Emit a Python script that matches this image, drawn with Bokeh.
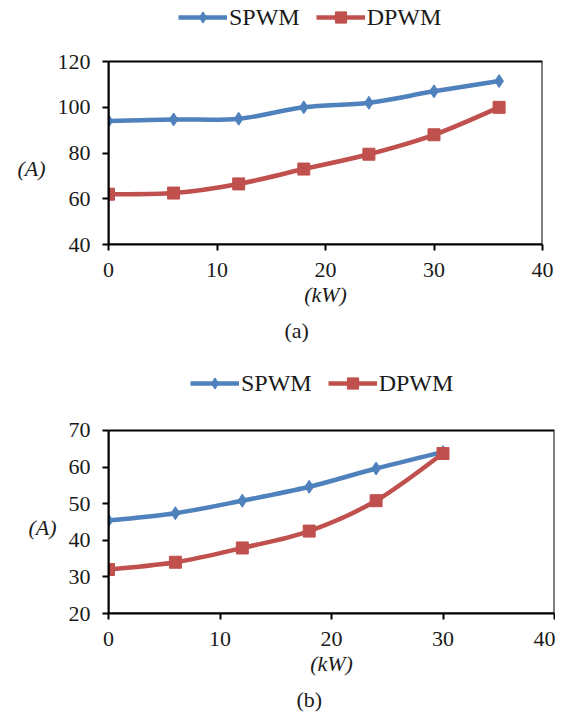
from bokeh.plotting import figure
from bokeh.models import (Legend, LegendItem, Title, Range1d, FixedTicker, ColumnDataSource,
                          BoxAnnotation)
from bokeh.layouts import column
from bokeh.embed import file_html
from bokeh.resources import INLINE

# ---- data ----
load_a = [0, 6, 12, 18, 24, 30, 36]
spwm_a = [94.0, 94.7, 95.0, 100.0, 102.0, 107.0, 111.5]
dpwm_a = [62.0, 62.5, 66.5, 73.0, 79.5, 88.0, 100.0]

load_b = [0, 6, 12, 18, 24, 30]
spwm_b = [45.4, 47.4, 50.8, 54.6, 59.6, 64.1]
dpwm_b = [32.0, 34.0, 37.9, 42.5, 50.8, 63.7]

x_ticks = [0, 10, 20, 30, 40]
y_ticks_a = [40, 60, 80, 100, 120]
y_ticks_b = [20, 30, 40, 50, 60, 70]
series_names = ["SPWM", "DPWM"]

BLUE = "#4F81BD"
RED = "#C0504D"
FONT = "'Liberation Serif', 'Times New Roman', serif"
TXT = "#1a1a1a"


def smooth_segments(xs, ys):
    """Catmull-Rom style bezier segments through the data points (Excel-like smoothing)."""
    n = len(xs)
    d = dict(x0=[], y0=[], x1=[], y1=[], cx0=[], cy0=[], cx1=[], cy1=[])
    for i in range(n - 1):
        p0 = (xs[max(i - 1, 0)], ys[max(i - 1, 0)])
        p1 = (xs[i], ys[i])
        p2 = (xs[i + 1], ys[i + 1])
        p3 = (xs[min(i + 2, n - 1)], ys[min(i + 2, n - 1)])
        d["x0"].append(p1[0]); d["y0"].append(p1[1])
        d["x1"].append(p2[0]); d["y1"].append(p2[1])
        d["cx0"].append(p1[0] + (p2[0] - p0[0]) / 6.0)
        d["cy0"].append(p1[1] + (p2[1] - p0[1]) / 6.0)
        d["cx1"].append(p2[0] - (p3[0] - p1[0]) / 6.0)
        d["cy1"].append(p2[1] - (p3[1] - p1[1]) / 6.0)
    return ColumnDataSource(d)


def make_chart(xs, s1, s2, yticks, caption, fw, box_h, top_px, bl, br, bt, bb,
               leg_x, leg_y, cap_off, ylab):
    x_min, x_max = x_ticks[0], x_ticks[-1]
    y_min, y_max = yticks[0], yticks[-1]
    # frame extends above the data box to host the legend (legend lives inside the frame)
    y_end = y_max + (y_max - y_min) * top_px / box_h
    p = figure(frame_width=fw, frame_height=int(round(box_h + top_px)),
               output_backend="svg", toolbar_location=None,
               x_range=Range1d(x_min, x_max), y_range=Range1d(y_min, y_end),
               min_border_left=bl, min_border_right=br, min_border_top=bt, min_border_bottom=bb)
    p.grid.visible = False
    p.outline_line_color = None

    for ax in (p.xaxis[0], p.yaxis[0]):
        ax.axis_line_color = "black"
        ax.axis_line_width = 2
        ax.major_tick_line_color = "black"
        ax.major_tick_line_width = 2
        ax.major_tick_out = 6
        ax.major_tick_in = 0
        ax.minor_tick_out = 0
        ax.minor_tick_in = 0
        ax.major_label_text_font = FONT
        ax.major_label_text_font_size = "22px"
        ax.major_label_text_color = TXT
        ax.major_label_standoff = 12
        ax.axis_label_text_font = FONT
        ax.axis_label_text_font_size = "22px"
        ax.axis_label_text_font_style = "italic"
        ax.axis_label_text_color = TXT

    p.xaxis.ticker = FixedTicker(ticks=x_ticks)
    p.yaxis.ticker = FixedTicker(ticks=yticks)
    p.yaxis.bounds = (y_min, y_max)
    p.xaxis.axis_label = "(kW)"
    p.xaxis.axis_label_standoff = 2
    p.yaxis.axis_label = ylab
    p.yaxis.axis_label_orientation = "horizontal"
    p.yaxis.axis_label_standoff = 9

    # plot-area box
    p.add_layout(BoxAnnotation(left=x_min, right=x_max, bottom=y_min, top=y_max,
                               fill_alpha=0, line_color="black", line_width=2, line_alpha=1))

    src1 = smooth_segments(xs, s1)
    src2 = smooth_segments(xs, s2)
    b1 = p.bezier(x0="x0", y0="y0", x1="x1", y1="y1", cx0="cx0", cy0="cy0", cx1="cx1", cy1="cy1",
                  source=src1, line_color=BLUE, line_width=4.5)
    m1 = p.scatter(xs, s1, marker="diamond", size=13, fill_color=BLUE, line_color=BLUE)
    b2 = p.bezier(x0="x0", y0="y0", x1="x1", y1="y1", cx0="cx0", cy0="cy0", cx1="cx1", cy1="cy1",
                  source=src2, line_color=RED, line_width=4.5)
    m2 = p.scatter(xs, s2, marker="square", size=12, fill_color=RED, line_color=RED)

    leg = Legend(items=[LegendItem(label=series_names[0], renderers=[b1, m1]),
                        LegendItem(label=series_names[1], renderers=[b2, m2])],
                 orientation="horizontal", location=(leg_x, leg_y),
                 glyph_width=49, glyph_height=28, label_height=28, label_standoff=2, spacing=16,
                 padding=0, margin=0,
                 label_text_font=FONT, label_text_font_size="24px", label_text_color=TXT,
                 border_line_alpha=0, background_fill_alpha=0)
    p.add_layout(leg, "center")

    t = Title(text=caption, align="left", offset=cap_off, text_font=FONT,
              text_font_size="22px", text_font_style="normal", text_color=TXT, standoff=12)
    p.add_layout(t, "below")
    return p


pa = make_chart(load_a, spwm_a, dpwm_a, y_ticks_a, "(a)",
                434, 182.5, 59, 108, 13, 2, 100, 70, 213, 176, "\n\n\n(A)")
pb = make_chart(load_b, spwm_b, dpwm_b, y_ticks_b, "(b)",
                446, 183.3, 80, 96, 13, 2, 100, 82, 216, 188, "\n\n\n(A)")

layout = column(pa, pb, spacing=0)
open("out.html", "w").write(file_html(layout, INLINE))
